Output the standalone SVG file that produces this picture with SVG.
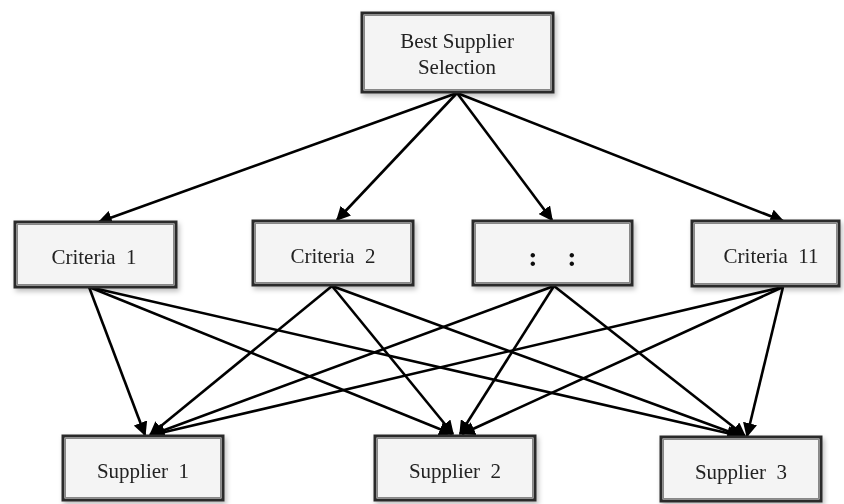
<svg xmlns="http://www.w3.org/2000/svg" width="844" height="504" viewBox="0 0 844 504">
<style>
.box{fill:#f4f4f4;stroke:#2b2b2b;stroke-width:3}
.inner{fill:none;stroke:#888;stroke-width:1}
.lbl{font-family:"Liberation Serif","Times New Roman",serif;font-size:21px;fill:#222;text-anchor:middle}
.dots{font-family:"Liberation Serif","Times New Roman",serif;font-size:28px;font-weight:bold;fill:#111;text-anchor:middle}
.edge{stroke:#000;stroke-width:2.6;fill:none;marker-end:url(#ah)}
</style>
<defs>
<marker id="ah" viewBox="0 0 10 10" refX="9" refY="5" markerWidth="5.5" markerHeight="5.5" orient="auto" markerUnits="strokeWidth">
<path d="M0,0 L10,5 L0,10 z" fill="#000"/>
</marker>
<filter id="sh" x="-10%" y="-10%" width="125%" height="130%">
<feDropShadow dx="2" dy="3" stdDeviation="2.5" flood-color="#000" flood-opacity="0.25"/>
</filter>
</defs>
<rect width="844" height="504" fill="#fff"/>
<g id="connectors">
<line class="edge" x1="457" y1="93" x2="99" y2="222"/>
<line class="edge" x1="457" y1="93" x2="337" y2="220"/>
<line class="edge" x1="457" y1="93" x2="552" y2="220"/>
<line class="edge" x1="457" y1="93" x2="783" y2="221"/>
<line class="edge" x1="89" y1="287" x2="145" y2="435"/>
<line class="edge" x1="89" y1="287" x2="452" y2="434"/>
<line class="edge" x1="89" y1="287" x2="740" y2="436"/>
<line class="edge" x1="332" y1="286" x2="150" y2="435"/>
<line class="edge" x1="332" y1="286" x2="453" y2="434"/>
<line class="edge" x1="332" y1="286" x2="741" y2="436"/>
<line class="edge" x1="554" y1="286" x2="151" y2="435"/>
<line class="edge" x1="554" y1="286" x2="460" y2="434"/>
<line class="edge" x1="554" y1="286" x2="745" y2="436"/>
<line class="edge" x1="783" y1="287" x2="152" y2="435"/>
<line class="edge" x1="783" y1="287" x2="462" y2="434"/>
<line class="edge" x1="783" y1="287" x2="747" y2="436"/>
</g>
<g id="goal" filter="url(#sh)">
<rect class="box" x="362" y="13" width="191" height="79"/>
<rect class="inner" x="364.5" y="15.5" width="186" height="74"/>
<text class="lbl" x="457" y="48">Best Supplier</text>
<text class="lbl" x="457" y="74">Selection</text>
</g>
<g id="criteria1" filter="url(#sh)">
<rect class="box" x="15" y="222" width="161" height="65"/>
<rect class="inner" x="17.5" y="224.5" width="156" height="60"/>
<text class="lbl" x="94" y="264" xml:space="preserve">Criteria  1</text>
</g>
<g id="criteria2" filter="url(#sh)">
<rect class="box" x="253" y="221" width="160" height="64"/>
<rect class="inner" x="255.5" y="223.5" width="155" height="59"/>
<text class="lbl" x="333" y="263" xml:space="preserve">Criteria  2</text>
</g>
<g id="criteriaDots" filter="url(#sh)">
<rect class="box" x="473" y="221" width="159" height="64"/>
<rect class="inner" x="475.5" y="223.5" width="154" height="59"/>
<text class="dots"><tspan x="533" y="266">:</tspan><tspan x="572" y="266">:</tspan></text>
</g>
<g id="criteria11" filter="url(#sh)">
<rect class="box" x="692" y="221" width="147" height="65"/>
<rect class="inner" x="694.5" y="223.5" width="142" height="60"/>
<text class="lbl" x="771" y="263" xml:space="preserve">Criteria  11</text>
</g>
<g id="supplier1" filter="url(#sh)">
<rect class="box" x="63" y="436" width="160" height="64"/>
<rect class="inner" x="65.5" y="438.5" width="155" height="59"/>
<text class="lbl" x="143" y="478" xml:space="preserve">Supplier  1</text>
</g>
<g id="supplier2" filter="url(#sh)">
<rect class="box" x="375" y="436" width="160" height="64"/>
<rect class="inner" x="377.5" y="438.5" width="155" height="59"/>
<text class="lbl" x="455" y="478" xml:space="preserve">Supplier  2</text>
</g>
<g id="supplier3" filter="url(#sh)">
<rect class="box" x="661" y="437" width="160" height="64"/>
<rect class="inner" x="663.5" y="439.5" width="155" height="59"/>
<text class="lbl" x="741" y="479" xml:space="preserve">Supplier  3</text>
</g>
</svg>
